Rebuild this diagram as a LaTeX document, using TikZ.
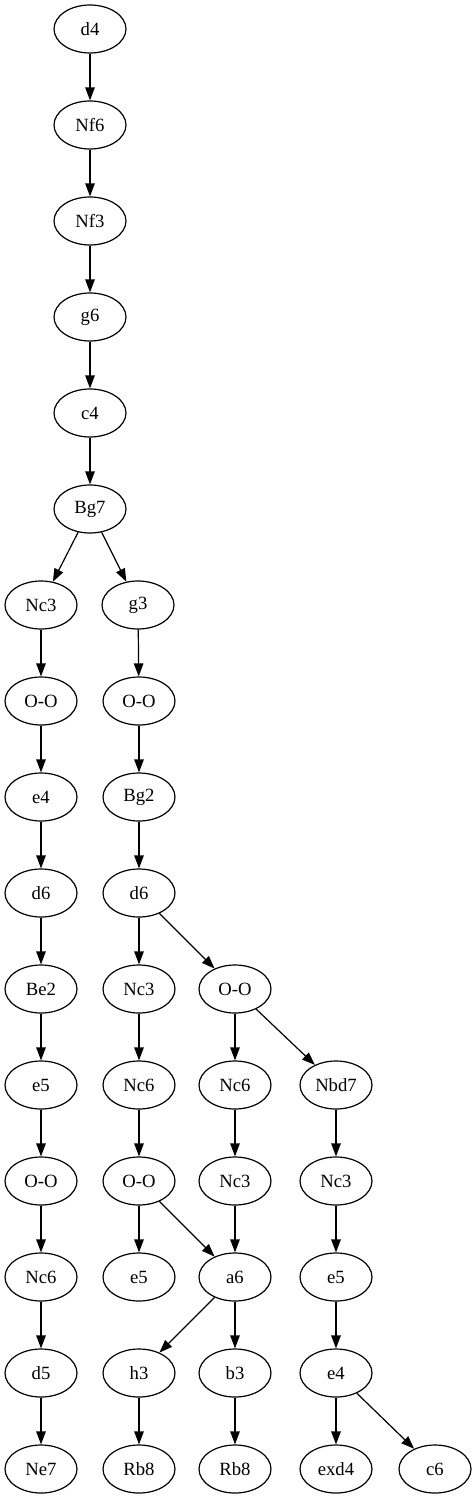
\documentclass[tikz,border=0pt]{standalone}
\usepackage{fontspec}
\setmainfont{Liberation Serif}
\usetikzlibrary{arrows.meta,shapes.geometric}
\begin{document}
\begin{tikzpicture}[x=1pt,y=-1pt,
  mv/.style={ellipse,draw,line width=1.2pt,minimum width=72pt,minimum height=48pt,inner sep=0pt,font=\fontsize{18.67}{20}\selectfont},
  ar/.style={line width=1.2pt,-{Triangle[length=13pt,width=9.5pt]}}]
\useasboundingbox (0,0) rectangle (476,1499);
% top chain
\node[mv] (a0) at (90,29) {d4};
\node[mv] (a1) at (90,125) {Nf6};
\node[mv] (a2) at (90,221) {Nf3};
\node[mv] (a3) at (90,317) {g6};
\node[mv] (a4) at (90,413) {c4};
\node[mv] (a5) at (90,509) {Bg7};
% left column
\node[mv] (b6) at (41,605) {Nc3};
\node[mv] (b7) at (41,701) {O-O};
\node[mv] (b8) at (41,797) {e4};
\node[mv] (b9) at (41,893) {d6};
\node[mv] (b10) at (41,989) {Be2};
\node[mv] (b11) at (41,1085) {e5};
\node[mv] (b12) at (41,1181) {O-O};
\node[mv] (b13) at (41,1277) {Nc6};
\node[mv] (b14) at (41,1373) {d5};
\node[mv] (b15) at (41,1469) {Ne7};
% second column
\node[mv] (c6) at (138,605) {g3};
\node[mv] (c7) at (139,701) {O-O};
\node[mv] (c8) at (139,797) {Bg2};
\node[mv] (c9) at (139,893) {d6};
\node[mv] (c10) at (139,989) {Nc3};
\node[mv] (c11) at (139,1085) {Nc6};
\node[mv] (c12) at (139,1181) {O-O};
\node[mv] (c13) at (139,1277) {e5};
\node[mv] (c14) at (139,1373) {h3};
\node[mv] (c15) at (139,1469) {Rb8};
% third column
\node[mv] (d10) at (235,989) {O-O};
\node[mv] (d11) at (235,1085) {Nc6};
\node[mv] (d12) at (235,1181) {Nc3};
\node[mv] (d13) at (235,1277) {a6};
\node[mv] (d14) at (235,1373) {b3};
\node[mv] (d15) at (235,1469) {Rb8};
% fourth column
\node[mv] (e11) at (336,1085) {Nbd7};
\node[mv] (e12) at (336,1181) {Nc3};
\node[mv] (e13) at (336,1277) {e5};
\node[mv] (e14) at (336,1373) {e4};
\node[mv] (e15) at (336,1469) {exd4};
\node[mv] (f15) at (435,1469) {c6};
% edges
\draw[ar] (a0) -- (a1);
\draw[ar] (a1) -- (a2);
\draw[ar] (a2) -- (a3);
\draw[ar] (a3) -- (a4);
\draw[ar] (a4) -- (a5);
\draw[ar] (a5) -- (b6);
\draw[ar] (a5) -- (c6);
\draw[ar] (b6) -- (b7);
\draw[ar] (b7) -- (b8);
\draw[ar] (b8) -- (b9);
\draw[ar] (b9) -- (b10);
\draw[ar] (b10) -- (b11);
\draw[ar] (b11) -- (b12);
\draw[ar] (b12) -- (b13);
\draw[ar] (b13) -- (b14);
\draw[ar] (b14) -- (b15);
\draw[ar] (c6) -- (c7);
\draw[ar] (c7) -- (c8);
\draw[ar] (c8) -- (c9);
\draw[ar] (c9) -- (c10);
\draw[ar] (c9) -- (d10);
\draw[ar] (c10) -- (c11);
\draw[ar] (c11) -- (c12);
\draw[ar] (c12) -- (c13);
\draw[ar] (c12) -- (d13);
\draw[ar] (d10) -- (d11);
\draw[ar] (d10) -- (e11);
\draw[ar] (d11) -- (d12);
\draw[ar] (d12) -- (d13);
\draw[ar] (d13) -- (c14);
\draw[ar] (d13) -- (d14);
\draw[ar] (c14) -- (c15);
\draw[ar] (d14) -- (d15);
\draw[ar] (e11) -- (e12);
\draw[ar] (e12) -- (e13);
\draw[ar] (e13) -- (e14);
\draw[ar] (e14) -- (e15);
\draw[ar] (e14) -- (f15);
\end{tikzpicture}
\end{document}
